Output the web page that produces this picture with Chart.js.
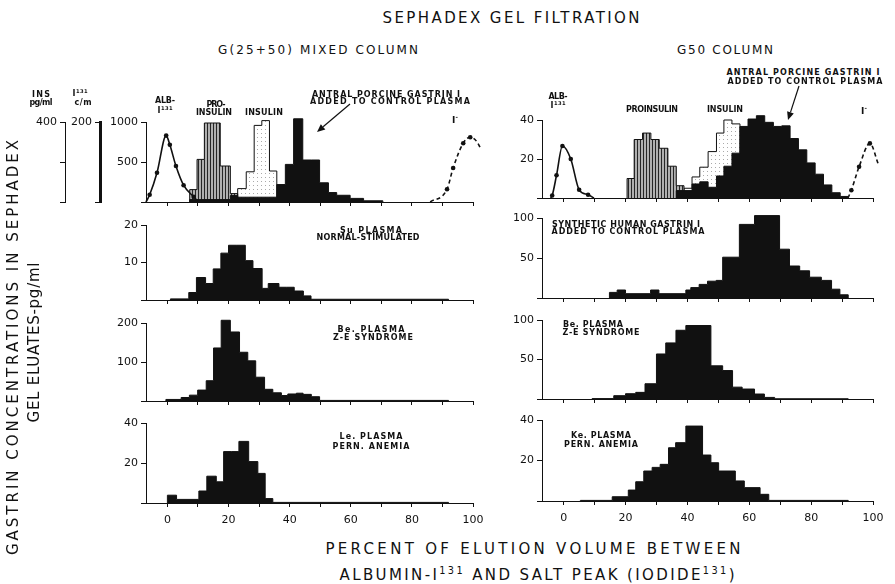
<!DOCTYPE html>
<html>
<head>
<meta charset="utf-8">
<script src="https://cdn.jsdelivr.net/npm/chart.js@4.4.1/dist/chart.umd.min.js"></script>
<style>
  body { margin: 0; background: #fff; }
  #fig { position: relative; width: 895px; height: 584px; overflow: hidden; background: #fff; }
  #fig canvas { position: absolute; }
  #marks { position: absolute; left: 0; top: 0; }
  .t { position: absolute; white-space: nowrap; font-family: 'DejaVu Sans', sans-serif; color: #111; line-height: 1; }
  .t.small { font-weight: bold; }
  .t sup { font-size: 65%; vertical-align: 0; position: relative; top: -0.6em; }
</style>
</head>
<body>
<div id="fig">
  <svg id="marks" width="895" height="584"></svg>
</div>
<script>
const INK = '#111';
const X_MIN = -7, X_MAX = 100;
const xTicks = [0, 20, 40, 60, 80, 100];

// G(25+50) mixed column: markers + porcine gastrin I added to control plasma
const mixAlbX = [-7, -5.8, -3.4, -0.4, 0.8, 2.8, 5.3, 8.6, 10.2];
const mixAlbY = [0, 18, 73, 166, 143, 90, 42, 13, 0];            // I131 c/m
const mixIodX = [86, 91.5, 93.5, 96.8, 99.1, 102.4, 107.3];
const mixIodY = [0, 32, 85, 147, 162, 135, 12];                   // I131 c/m
const mixProEdges = [7.3, 9.7, 12.1, 14.7, 17.3, 20.6, 23];
const mixProValues = [62, 213, 395, 395, 180, 42];                // INS pg/ml
const mixInsEdges = [23, 25.8, 28.4, 30.9, 33.4, 35.8];
const mixInsValues = [67, 151, 383, 407, 155];                    // INS pg/ml
const mixGasEdges = [7.3, 20.6, 23, 35.8, 38.6, 41.3, 44.3, 47.1, 49.8, 52.7, 55.4, 59.8, 64.2, 70.5];
const mixGasValues = [30, 80, 60, 218, 470, 1040, 525, 525, 240, 118, 84, 45, 15];

// G(25+50) mixed column: patient plasmas
const suEdges = [1, 7, 9.5, 12.5, 15, 17.5, 20, 22.5, 25.5, 28, 31, 33, 36.5, 39, 41.5, 44.5, 47, 92];
const suValues = [0.3, 2, 6, 4.4, 8.3, 12.5, 14.6, 14.6, 10.5, 8.4, 3.1, 4.4, 3.4, 3.4, 2.4, 1.1, 0.2];
const beMixEdges = [-0.5, 4.5, 7.2, 9.9, 12.7, 15.1, 17.6, 20.6, 23.6, 26.3, 28.9, 31.8, 34.5, 37.3, 39.4, 42.2, 44.4, 47.1, 49.8, 92];
const beMixValues = [4, 9, 15, 28, 52, 136, 207, 177, 125, 103, 61, 30, 21, 14, 18, 20, 17, 11, 1.5];
const leEdges = [0, 3, 10.3, 12.9, 16, 18.4, 20.9, 23.4, 26.6, 29.6, 32, 34.5, 92];
const leValues = [3.9, 1.8, 6, 13.4, 10.6, 25.7, 25.7, 30.8, 20.7, 14.8, 2.2, 0.3];

// G50 column: markers + porcine gastrin I added to control plasma
const g50AlbX = [-4.2, -3.7, -2.3, -0.4, 2.3, 5, 7.9, 9.8];
const g50AlbY = [0, 1.3, 11.7, 26.7, 20, 4.2, 1.7, 0];
const g50IodX = [91.9, 93, 95.5, 99, 101.7, 103.4, 105.3];
const g50IodY = [0, 4, 16, 28, 17.5, 11, 5.5];
const g50ProEdges = [20.5, 22.8, 25.5, 28.2, 30.9, 33.7, 36.4, 38.9];
const g50ProValues = [10, 30, 33.3, 30, 25.5, 16.3, 6.3];
const g50InsEdges = [38.9, 41.5, 44, 46.7, 49.4, 51.8, 54.4, 57];
const g50InsValues = [5, 10.8, 15.8, 23.8, 33.3, 40, 38];
const g50GasEdges = [36.4, 41.5, 44, 46.7, 49.4, 51.8, 54.4, 57, 59.6, 62.3, 65, 67.8, 70.5, 73.2, 75.9, 78.6, 81.3, 84, 86.7, 89.4, 91.9];
const g50GasValues = [3.8, 7.2, 8.3, 5.5, 11.3, 16.3, 23, 36.7, 40.5, 42.2, 38.8, 36.7, 37, 30.5, 24.7, 18, 12.2, 6.7, 2.7, 0.8];

// G50 column: synthetic gastrin and patient plasmas
const synEdges = [14.8, 17.3, 20, 28.1, 30.8, 39.5, 41.1, 43.8, 46.5, 49.3, 51.4, 56.8, 61.7, 69.8, 73, 76.3, 79.5, 83.3, 86.6, 89.3, 92];
const synValues = [7, 10, 5.4, 10, 5.4, 10, 13, 17, 21, 22, 51, 92, 103, 61, 40, 34, 26, 22, 11, 4];
const beG50Edges = [9.2, 16.2, 20, 23.3, 26.3, 30, 33, 36.3, 39.5, 47.6, 51.4, 54.6, 57.7, 61.7, 64.9, 68.2, 92];
const beG50Values = [0.5, 4.2, 6.7, 8.4, 19.3, 57, 71, 87, 93, 42, 36, 15, 12.6, 6.3, 2, 0.3];
const keEdges = [5.4, 15.7, 20.9, 23.3, 25.9, 28.6, 31.2, 33.9, 36.2, 39.5, 44.9, 47.6, 50.1, 55.5, 58.4, 63.5, 66.3, 92];
const keValues = [0.3, 2.1, 5.4, 9.5, 14.8, 16.6, 18.1, 26.3, 28.8, 37, 22.7, 18.9, 14.8, 9.9, 6.6, 3.3, 0.3];

const TICK_FONT = { family: "'DejaVu Sans', sans-serif", size: 11 };
const fig = document.getElementById('fig');

function pattern(w, h, paint) {
  const c = document.createElement('canvas');
  c.width = w; c.height = h;
  const g = c.getContext('2d');
  paint(g);
  return g.createPattern(c, 'repeat');
}
const hatch = pattern(3, 4, g => {
  g.fillStyle = '#b0b0b0'; g.fillRect(0, 0, 3, 4);
  g.fillStyle = '#262626'; g.fillRect(0, 0, 1, 4);
});
const stipple = pattern(4, 4, g => {
  g.fillStyle = '#fff'; g.fillRect(0, 0, 4, 4);
  g.fillStyle = '#aaa'; g.fillRect(1, 1, 1, 1);
});

// peaks may run a little past the top tick; let fills follow the outline there
const overshoot = {
  id: 'overshoot',
  beforeDatasetsDraw(chart) { chart.chartArea.top -= 10; },
  afterDatasetsDraw(chart) { chart.chartArea.top += 10; }
};

// closed step outline: rise at the first edge, drop at the last
function steps(edges, values) {
  const pts = [{ x: edges[0], y: 0 }];
  values.forEach((v, i) => pts.push({ x: edges[i], y: v }));
  pts.push({ x: edges[edges.length - 1], y: 0 });
  return pts;
}

function histogram(edges, values, fill, yAxisID, order) {
  return {
    data: steps(edges, values), stepped: true, fill: 'origin',
    backgroundColor: fill, borderColor: INK, borderWidth: 1,
    pointRadius: 0, yAxisID: yAxisID, order: order, clip: false
  };
}

function curve(xs, ys, dashed, yAxisID) {
  return {
    data: xs.map((x, i) => ({ x: x, y: ys[i] })),
    borderColor: INK, borderWidth: 1.6, borderDash: dashed ? [4, 3] : [],
    cubicInterpolationMode: 'monotone', fill: false,
    pointRadius: ys.map(v => v > 0 ? 2.3 : 0), pointBackgroundColor: INK, pointBorderWidth: 0,
    yAxisID: yAxisID, order: 0, clip: false
  };
}

function xScale(labelled, height) {
  return {
    type: 'linear', min: X_MIN, max: X_MAX,
    border: { color: INK, width: 1 },
    grid: { drawOnChartArea: false, tickLength: 4, color: INK },
    ticks: {
      stepSize: 10, includeBounds: false, autoSkip: false, maxRotation: 0,
      padding: 7, color: INK, font: TICK_FONT,
      callback: v => labelled && xTicks.includes(v) ? String(v) : ''
    },
    afterFit: s => { s.height = height; }
  };
}

function yScale(max, step, labels, width, extra) {
  return Object.assign({
    type: 'linear', position: 'left', min: 0, max: max,
    border: { color: INK, width: 1 },
    grid: { drawOnChartArea: false, tickLength: 5, color: INK },
    ticks: { stepSize: step, padding: 3, color: INK, font: TICK_FONT,
      callback: v => labels.includes(v) ? String(v) : '' },
    afterFit: s => { s.width = width; }
  }, extra || {});
}

// area: plot rectangle on the page; cl/cr: canvas left/right edges
function panel(area, cl, cr, labelled, scales, datasets) {
  const xh = labelled ? 30 : 10, padTop = 14;
  const cv = document.createElement('canvas');
  cv.width = cr - cl;
  cv.height = padTop + (area.b - area.t) + xh;
  cv.style.left = cl + 'px';
  cv.style.top = (area.t - padTop) + 'px';
  fig.appendChild(cv);
  scales.x = xScale(labelled, xh);
  return new Chart(cv, {
    type: 'line',
    data: { datasets: datasets },
    options: {
      responsive: false, animation: false, devicePixelRatio: 1, events: [],
      layout: { padding: { top: padTop, right: cr - area.r, left: 0, bottom: 0 } },
      plugins: { legend: { display: false }, tooltip: { enabled: false } },
      scales: scales
    },
    plugins: [overshoot]
  });
}

const L = { l: 146, r: 473 }, R = { l: 542, r: 873 };

// left column, G(25+50)
panel({ t: 122, b: 202, r: L.r }, 0, 500, false, {
  yIns: yScale(400, 200, [400], 65, { weight: 2 }),
  yIod: yScale(200, 200, [200], 35, { weight: 1, border: { color: INK, width: 3 } }),
  y: yScale(1000, 500, [500, 1000], 46, { weight: 0 })
}, [
  histogram(mixInsEdges, mixInsValues, stipple, 'yIns', 4),
  histogram(mixProEdges, mixProValues, hatch, 'yIns', 3),
  histogram(mixGasEdges, mixGasValues, INK, 'y', 2),
  curve(mixAlbX, mixAlbY, false, 'yIod'),
  curve(mixIodX, mixIodY, true, 'yIod')
]);
panel({ t: 225, b: 300, r: L.r }, 100, 500, false, { y: yScale(20, 10, [10, 20], 46) },
  [histogram(suEdges, suValues, INK, 'y', 1)]);
panel({ t: 323, b: 401, r: L.r }, 100, 500, false, { y: yScale(200, 100, [100, 200], 46) },
  [histogram(beMixEdges, beMixValues, INK, 'y', 1)]);
panel({ t: 423, b: 503, r: L.r }, 100, 500, true, { y: yScale(40, 20, [20, 40], 46) },
  [histogram(leEdges, leValues, INK, 'y', 1)]);

// right column, G50
panel({ t: 120, b: 198, r: R.r }, 490, 895, false, { y: yScale(40, 20, [20, 40], 52) }, [
  histogram(g50InsEdges, g50InsValues, stipple, 'y', 4),
  histogram(g50ProEdges, g50ProValues, hatch, 'y', 3),
  histogram(g50GasEdges, g50GasValues, INK, 'y', 2),
  curve(g50AlbX, g50AlbY, false, 'y'),
  curve(g50IodX, g50IodY, true, 'y')
]);
panel({ t: 218, b: 298, r: R.r }, 490, 895, false, { y: yScale(100, 50, [50, 100], 52) },
  [histogram(synEdges, synValues, INK, 'y', 1)]);
panel({ t: 320, b: 399, r: R.r }, 490, 895, false, { y: yScale(100, 50, [50, 100], 52) },
  [histogram(beG50Edges, beG50Values, INK, 'y', 1)]);
panel({ t: 420, b: 501, r: R.r }, 490, 895, true, { y: yScale(40, 20, [20, 40], 52) },
  [histogram(keEdges, keValues, INK, 'y', 1)]);

// text, stretched by letter spacing to the lettered width
function text(html, cx, cy, size, width, rotate) {
  const el = document.createElement('div');
  el.className = size < 10 ? 't small' : 't';
  el.innerHTML = html;
  el.style.fontSize = size + 'px';
  fig.appendChild(el);
  const n = el.textContent.length;
  const natural = el.getBoundingClientRect().width;
  let ls = 0;
  if (width && n > 1) {
    ls = (width - natural) / (n - 1);
    el.style.letterSpacing = ls + 'px';
  }
  const w = natural + ls * (n - 1), h = el.offsetHeight;
  el.style.left = (cx - w / 2) + 'px';
  el.style.top = (cy - h / 2) + 'px';
  if (rotate) {
    el.style.transformOrigin = (w / 2) + 'px ' + (h / 2) + 'px';
    el.style.transform = 'rotate(-90deg)';
  }
}

text('SEPHADEX GEL FILTRATION', 511, 18, 15, 257);
text('G(25+50) MIXED COLUMN', 318, 50, 12, 200);
text('G50 COLUMN', 725, 50, 12, 96);

text('GASTRIN CONCENTRATIONS IN SEPHADEX', 13, 347, 15, 415, true);
text('GEL ELUATES-pg/ml', 34, 342, 15, 160, true);

text('PERCENT OF ELUTION VOLUME BETWEEN', 533, 549, 15, 415);
text('ALBUMIN-I<sup>131</sup> AND SALT PEAK (IODIDE<sup>131</sup>)', 537, 575, 15, 395);

// left top panel legends
text('INS', 41, 95, 8, 18);
text('pg/ml', 41, 103, 8, 23);
text('I<sup>131</sup>', 80, 94, 8, 15);
text('c/m', 83, 103, 8, 17);
text('ALB-', 165, 101, 8, 20);
text('I<sup>131</sup>', 165, 111, 8, 15);
text('PRO-', 216, 105, 8, 19);
text('INSULIN', 214, 113, 8, 36);
text('INSULIN', 264, 113, 8, 38);
text('ANTRAL PORCINE GASTRIN I', 386, 95, 8, 148);
text('ADDED TO CONTROL PLASMA', 390, 102, 8, 160);
text('I<sup>-</sup>', 455, 120, 9);

// right top panel legends
text('ALB-', 558, 97, 8, 19);
text('I<sup>131</sup>', 558, 106, 8, 15);
text('PROINSULIN', 652, 110, 8, 52);
text('INSULIN', 725, 110, 8, 36);
text('ANTRAL PORCINE GASTRIN I', 803, 73, 8, 153);
text('ADDED TO CONTROL PLASMA', 805, 82, 8, 155);
text('I<sup>-</sup>', 864, 111, 9);

// sample labels
text('Su PLASMA', 371, 231, 8, 62);
text('NORMAL-STIMULATED', 368, 238, 8, 103);
text('Be. PLASMA', 371, 330, 8, 67);
text('Z-E SYNDROME', 373, 338, 8, 80);
text('Le. PLASMA', 371, 437, 8, 63);
text('PERN. ANEMIA', 371, 447, 8, 77);
text('SYNTHETIC HUMAN GASTRIN I', 626, 225, 8, 148);
text('ADDED TO CONTROL PLASMA', 628, 232, 8, 153);
text('Be. PLASMA', 593, 325, 8, 60);
text('Z-E SYNDROME', 601, 333, 8, 77);
text('Ke. PLASMA', 601, 436, 8, 60);
text('PERN. ANEMIA', 601, 445, 8, 74);

// pointer arrows to the gastrin peaks
const svg = document.getElementById('marks');
function arrow(x1, y1, x2, y2) {
  const NS = 'http://www.w3.org/2000/svg';
  const a = Math.atan2(y2 - y1, x2 - x1), len = 8, half = 3.5;
  const bx = x2 - len * Math.cos(a), by = y2 - len * Math.sin(a);
  const line = document.createElementNS(NS, 'line');
  line.setAttribute('x1', x1); line.setAttribute('y1', y1);
  line.setAttribute('x2', bx); line.setAttribute('y2', by);
  line.setAttribute('stroke', INK); line.setAttribute('stroke-width', 1.2);
  svg.appendChild(line);
  const head = document.createElementNS(NS, 'polygon');
  const px = -Math.sin(a) * half, py = Math.cos(a) * half;
  head.setAttribute('points', [x2, y2, bx + px, by + py, bx - px, by - py].join(' '));
  head.setAttribute('fill', INK);
  svg.appendChild(head);
}
arrow(350, 104, 317, 132);
arrow(799, 86, 788, 120);
</script>
</body>
</html>
